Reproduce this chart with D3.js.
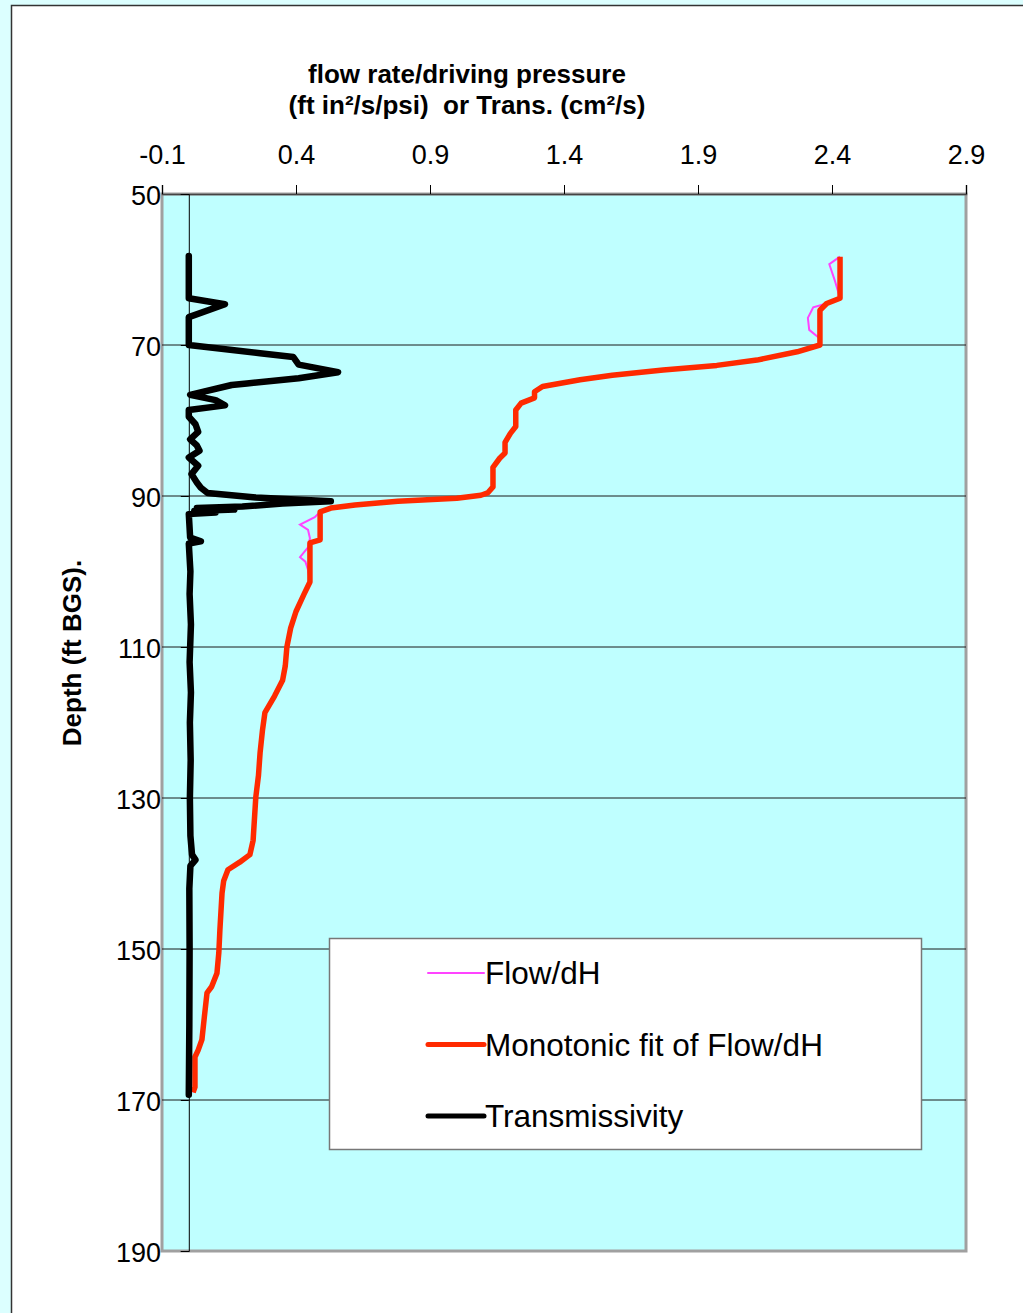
<!DOCTYPE html>
<html>
<head>
<meta charset="utf-8">
<script src="https://cdn.jsdelivr.net/npm/d3@7"></script>
<style>
  body { margin: 0; background: #dcffff; }
  svg { display: block; }
</style>
</head>
<body>
<svg id="chart" width="1023" height="1313"></svg>
<script>
// x ticks (top axis) and y ticks (depth)
var xTicks = [-0.1, 0.4, 0.9, 1.4, 1.9, 2.4, 2.9];
var xTickLabels = ["-0.1", "0.4", "0.9", "1.4", "1.9", "2.4", "2.9"];
var yTicks = [50, 70, 90, 110, 130, 150, 170, 190];

// series: [depth (ft BGS), value]
var flowDH = [
  [58.3, 2.43], [59.3, 2.39], [61.4, 2.41], [63.8, 2.43], [64.5, 2.38], [65.0, 2.33],
  [66.4, 2.31], [68.0, 2.315], [69.0, 2.35], [70.0, 2.355], [70.9, 2.27], [72.0, 2.12],
  [72.7, 1.97], [73.3, 1.77], [74.0, 1.58], [74.6, 1.46], [75.5, 1.32], [76.2, 1.29],
  [77.0, 1.29], [77.7, 1.24], [78.6, 1.22], [80.8, 1.215], [81.7, 1.2], [82.9, 1.18],
  [84.3, 1.18], [85.0, 1.16], [86.2, 1.13], [88.8, 1.135], [89.6, 1.115], [89.9, 1.09],
  [90.3, 1.0], [90.7, 0.78], [91.2, 0.62], [91.6, 0.53], [92.1, 0.49], [92.8, 0.47],
  [93.8, 0.415], [94.5, 0.445], [95.6, 0.452], [96.8, 0.445], [98.1, 0.415], [98.7, 0.435],
  [99.8, 0.445], [101.4, 0.452], [103.0, 0.43], [105.3, 0.40], [107.5, 0.38], [110.0, 0.366],
  [112.5, 0.36], [114.4, 0.35], [116.5, 0.32], [118.7, 0.284], [121.0, 0.275], [124.0, 0.266],
  [127.0, 0.26], [129.9, 0.25], [135.6, 0.24], [137.5, 0.228], [138.5, 0.19], [139.5, 0.146],
  [141.0, 0.13], [142.6, 0.124], [147.5, 0.116], [150.5, 0.112], [153.2, 0.105], [155.0, 0.085],
  [155.8, 0.068], [159.0, 0.058], [162.0, 0.049], [163.4, 0.035], [164.3, 0.023], [168.3, 0.023],
  [169.0, 0.016]
];

var monotonicFit = [
  [58.3, 2.43], [63.8, 2.43], [64.5, 2.38], [65.4, 2.355], [70.0, 2.355], [70.9, 2.27],
  [72.0, 2.12], [72.7, 1.97], [73.3, 1.77], [74.0, 1.58], [74.6, 1.46], [75.5, 1.32],
  [76.2, 1.29], [77.0, 1.29], [77.7, 1.24], [78.6, 1.22], [80.8, 1.22], [81.7, 1.2],
  [82.9, 1.18], [84.3, 1.18], [85.0, 1.16], [86.2, 1.135], [88.8, 1.135], [89.6, 1.115],
  [89.9, 1.09], [90.3, 1.0], [90.7, 0.78], [91.2, 0.62], [91.6, 0.53], [92.1, 0.49],
  [95.8, 0.49], [96.2, 0.452], [101.4, 0.452], [103.0, 0.43], [105.3, 0.40], [107.5, 0.38],
  [110.0, 0.366], [112.5, 0.36], [114.4, 0.35], [116.5, 0.32], [118.7, 0.284], [121.0, 0.275],
  [124.0, 0.266], [127.0, 0.26], [129.9, 0.25], [135.6, 0.24], [137.5, 0.228], [138.5, 0.19],
  [139.5, 0.146], [141.0, 0.13], [142.6, 0.124], [147.5, 0.116], [150.5, 0.112], [153.2, 0.105],
  [155.0, 0.085], [155.8, 0.068], [159.0, 0.058], [162.0, 0.049], [163.4, 0.035], [164.3, 0.023],
  [168.3, 0.023], [169.0, 0.016]
];

var transmissivity = [
  [58.2, 0.0], [63.8, 0.0], [64.6, 0.135], [66.3, 0.0], [70.0, 0.0], [71.1, 0.266],
  [71.6, 0.39], [72.6, 0.41], [73.6, 0.557], [74.4, 0.41], [75.1, 0.217], [75.3, 0.16],
  [76.6, 0.005], [77.3, 0.1], [78.0, 0.135], [78.6, 0.0], [79.5, 0.0], [80.5, 0.025],
  [81.5, 0.035], [82.5, 0.005], [83.3, 0.03], [84.0, 0.04], [84.9, 0.0], [86.0, 0.035],
  [87.1, 0.01], [88.2, 0.03], [88.9, 0.045], [89.6, 0.07], [90.2, 0.25], [90.7, 0.53],
  [91.0, 0.35], [91.4, 0.2], [91.6, 0.03], [91.8, 0.17], [92.0, 0.02], [92.2, 0.1],
  [92.4, 0.0], [95.5, 0.005], [96.0, 0.045], [96.3, 0.0], [100.0, 0.006], [103.0, 0.003],
  [107.0, 0.008], [112.0, 0.003], [116.0, 0.008], [120.0, 0.004], [125.0, 0.007], [130.0, 0.004],
  [135.0, 0.006], [137.5, 0.012], [138.2, 0.025], [139.0, 0.006], [142.0, 0.002], [150.0, 0.003],
  [160.0, 0.002], [169.3, 0.0]
];

var legendItems = [
  { label: "Flow/dH", color: "#ff44ff", width: 2 },
  { label: "Monotonic fit of Flow/dH", color: "#ff2a00", width: 5 },
  { label: "Transmissivity", color: "#000000", width: 5 }
];

(function() {
  var svg = d3.select("#chart");
  var font = "Liberation Sans, Arial, sans-serif";

  // white chart panel
  svg.append("rect")
    .attr("x", 11.5).attr("y", 5.5)
    .attr("width", 1030).attr("height", 1330)
    .attr("fill", "#ffffff")
    .attr("stroke", "#333").attr("stroke-width", 1.5);

  var plotLeft = 162, plotRight = 966, plotTop = 194, plotBottom = 1251;

  var x = d3.scaleLinear().domain([-0.1, 2.9]).range([plotLeft, plotRight]);
  var y = d3.scaleLinear().domain([50, 190]).range([plotTop, plotBottom]);

  // plot area
  svg.append("rect")
    .attr("x", plotLeft).attr("y", plotTop)
    .attr("width", plotRight - plotLeft).attr("height", plotBottom - plotTop)
    .attr("fill", "#bfffff")
    .attr("stroke", "#a0a0a0").attr("stroke-width", 3);

  // horizontal gridlines
  svg.append("g")
    .selectAll("line")
    .data(yTicks.filter(function(d) { return d > 50 && d < 190; }))
    .enter()
    .append("line")
    .attr("x1", plotLeft).attr("x2", plotRight)
    .attr("y1", function(d) { return y(d); })
    .attr("y2", function(d) { return y(d); })
    .attr("stroke", "#1a1a1a")
    .attr("stroke-width", 1);

  // top axis
  var xAxis = svg.append("g")
    .attr("transform", "translate(0," + plotTop + ")")
    .call(d3.axisTop(x).tickValues(xTicks).tickSize(9).tickPadding(21)
      .tickFormat(function(d, i) { return xTickLabels[i]; }));
  xAxis.select(".domain").attr("stroke", "#444").attr("stroke-width", 1.5);
  xAxis.selectAll("text")
    .attr("font-family", font)
    .attr("font-size", 27)
    .attr("fill", "#000");

  // y axis sits at x = 0
  var yAxis = svg.append("g")
    .attr("transform", "translate(" + x(0) + ",0)")
    .call(d3.axisLeft(y).tickValues(yTicks).tickSize(8).tickPadding(0));
  yAxis.select(".domain").attr("stroke", "#000").attr("stroke-width", 1);
  yAxis.selectAll(".tick text")
    .attr("x", plotLeft - 1 - x(0))
    .attr("dy", "0.38em")
    .attr("font-family", font)
    .attr("font-size", 27)
    .attr("fill", "#000");

  // lines
  var line = d3.line()
    .x(function(d) { return x(d[1]); })
    .y(function(d) { return y(d[0]); });

  svg.append("path").datum(flowDH)
    .attr("d", line).attr("fill", "none")
    .attr("stroke", "#ff44ff").attr("stroke-width", 2);

  svg.append("path").datum(monotonicFit)
    .attr("d", line).attr("fill", "none")
    .attr("stroke", "#ff2a00").attr("stroke-width", 5.5)
    .attr("stroke-linejoin", "round");

  svg.append("path").datum(transmissivity)
    .attr("d", line).attr("fill", "none")
    .attr("stroke", "#000").attr("stroke-width", 6.5)
    .attr("stroke-linejoin", "round").attr("stroke-linecap", "round");

  // titles
  var title = svg.append("text")
    .attr("text-anchor", "middle")
    .attr("font-family", font)
    .attr("font-weight", "bold")
    .attr("font-size", 26);
  title.append("tspan").attr("x", 467).attr("y", 83).text("flow rate/driving pressure");
  title.append("tspan").attr("x", 467).attr("y", 114)
    .attr("xml:space", "preserve")
    .text("(ft in\u00b2/s/psi)  or Trans. (cm\u00b2/s)");

  svg.append("text")
    .attr("transform", "translate(81,653) rotate(-90)")
    .attr("text-anchor", "middle")
    .attr("font-family", font)
    .attr("font-weight", "bold")
    .attr("font-size", 26)
    .text("Depth (ft BGS).");

  // legend
  var legend = svg.append("g");
  legend.append("rect")
    .attr("x", 329.5).attr("y", 938.5)
    .attr("width", 592).attr("height", 211)
    .attr("fill", "#fff")
    .attr("stroke", "#777").attr("stroke-width", 1.5);

  var rows = legend.selectAll(".legend-row")
    .data(legendItems)
    .enter()
    .append("g")
    .attr("class", "legend-row")
    .attr("transform", function(d, i) { return "translate(0," + (973 + i * 71.5) + ")"; });

  rows.append("line")
    .attr("x1", 428).attr("x2", 484)
    .attr("stroke", function(d) { return d.color; })
    .attr("stroke-width", function(d) { return d.width; })
    .attr("stroke-linecap", "round");

  rows.append("text")
    .attr("x", 485).attr("y", 11)
    .attr("font-family", font)
    .attr("font-size", 31.5)
    .text(function(d) { return d.label; });
})();
</script>
</body>
</html>
